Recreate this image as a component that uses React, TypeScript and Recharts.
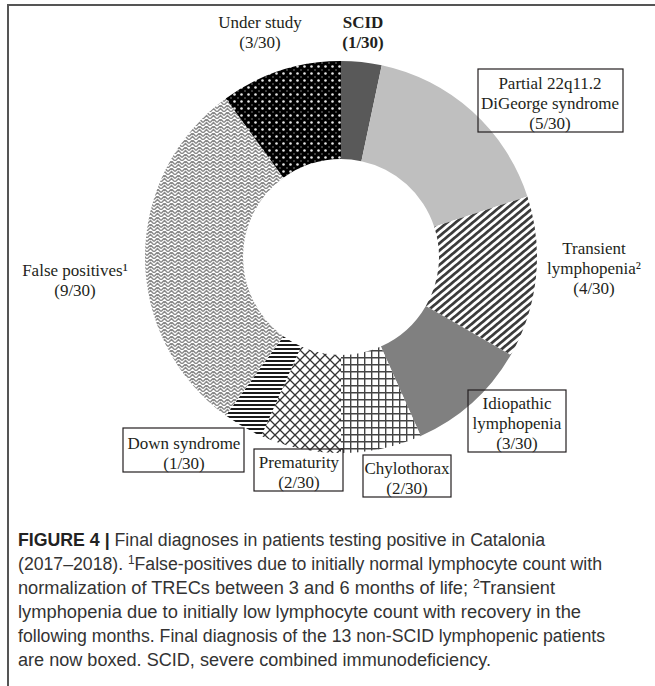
import React from 'react';
import { PieChart, Pie, Cell } from 'recharts';

// diagnoses, clockwise from 12 o'clock
const categories = [
  'SCID',
  'Partial 22q11.2 DiGeorge syndrome',
  'Transient lymphopenia',
  'Idiopathic lymphopenia',
  'Chylothorax',
  'Prematurity',
  'Down syndrome',
  'False positives',
  'Under study'
];
const patients = [1, 5, 4, 3, 2, 2, 1, 9, 3];
const totalPatients = 30;
const labelLines = [
  ['SCID'],
  ['Partial 22q11.2', 'DiGeorge syndrome'],
  ['Transient', 'lymphopenia²'],
  ['Idiopathic', 'lymphopenia'],
  ['Chylothorax'],
  ['Prematurity'],
  ['Down syndrome'],
  ['False positives¹'],
  ['Under study']
];
const fills = [
  '#595959',
  '#bfbfbf',
  'url(#stripes)',
  '#808080',
  'url(#grid)',
  'url(#cross)',
  'url(#hstripes)',
  'url(#weave)',
  'url(#dots)'
];

// label placement relative to the pie centre (dx/dy of the first text line)
const labelLayout = [
  { dx: 22, dy: -235, bold: true },
  { dx: 209, dy: -174, box: { x: 137, y: -188, w: 145, h: 63 } },
  { dx: 253, dy: -9 },
  { dx: 176, dy: 146, box: { x: 127, y: 133, w: 98, h: 62 } },
  { dx: 66, dy: 211, box: { x: 22, y: 198, w: 88, h: 42 } },
  { dx: -42, dy: 205, box: { x: -87, y: 192, w: 89, h: 42 } },
  { dx: -157, dy: 186, box: { x: -218, y: 171, w: 121, h: 44 } },
  { dx: -266, dy: 13 },
  { dx: -81, dy: -235 }
];

const data = categories.map((name, i) => ({ name, value: patients[i] }));

const serif = '"Liberation Serif", "Times New Roman", serif';
const ink = '#231f20';
const lineGap = 20;

const renderLabel = (props: any) => {
  const { cx, cy, index, value } = props;
  const lay = labelLayout[index];
  const lines = [...labelLines[index], `(${value}/${totalPatients})`];
  return (
    <g key={`lbl-${index}`}>
      {lay.box && (
        <rect
          x={cx + lay.box.x}
          y={cy + lay.box.y}
          width={lay.box.w}
          height={lay.box.h}
          fill="none"
          stroke={ink}
          strokeWidth={1.2}
        />
      )}
      {lines.map((t, k) => (
        <text
          key={k}
          x={cx + lay.dx}
          y={cy + lay.dy + k * lineGap}
          textAnchor="middle"
          dominantBaseline="central"
          fontFamily={serif}
          fontSize={17}
          fontWeight={lay.bold ? 'bold' : 'normal'}
          fill={ink}
        >
          {t}
        </text>
      ))}
    </g>
  );
};

const Patterns = () => (
  <svg width={0} height={0} style={{ position: 'absolute' }}>
    <defs>
      <pattern id="dots" width="7" height="7" patternUnits="userSpaceOnUse">
        <rect width="7" height="7" fill="#000" />
        <circle cx="3.5" cy="3.5" r="1.3" fill="#e6e6e6" />
        <circle cx="0" cy="0" r="0.8" fill="#8a8a8a" />
        <circle cx="7" cy="0" r="0.8" fill="#8a8a8a" />
        <circle cx="0" cy="7" r="0.8" fill="#8a8a8a" />
        <circle cx="7" cy="7" r="0.8" fill="#8a8a8a" />
      </pattern>
      <pattern id="stripes" width="5.5" height="5.5" patternUnits="userSpaceOnUse" patternTransform="rotate(-40)">
        <rect width="5.5" height="5.5" fill="#fff" />
        <rect width="5.5" height="2.7" fill="#3a3a3a" />
      </pattern>
      <pattern id="grid" width="7" height="7" patternUnits="userSpaceOnUse">
        <rect width="7" height="7" fill="#fff" />
        <path d="M0,0.7 H7 M0.7,0 V7" stroke="#444" strokeWidth={1.4} />
      </pattern>
      <pattern id="cross" width="10" height="10" patternUnits="userSpaceOnUse">
        <rect width="10" height="10" fill="#fff" />
        <path d="M0,0 L10,10 M10,0 L0,10" stroke="#333" strokeWidth={1.3} />
      </pattern>
      <pattern id="hstripes" width="4" height="4" patternUnits="userSpaceOnUse">
        <rect width="4" height="4" fill="#fff" />
        <rect width="4" height="2" fill="#1a1a1a" />
      </pattern>
      <pattern id="weave" width="7" height="7" patternUnits="userSpaceOnUse">
        <rect width="7" height="7" fill="#fff" />
        <path d="M0,7 L3.5,3.5 L7,7 M0,3.5 L3.5,0 L7,3.5" stroke="#8a8a8a" strokeWidth={1.5} fill="none" />
      </pattern>
    </defs>
  </svg>
);

const captionFont = '"Liberation Sans Narrow", "Arial Narrow", "Liberation Sans", Arial, sans-serif';

const Caption = () => {
  const x = 18;
  const base = 546;
  const step = 24;
  const common = { x, fontFamily: captionFont, fontSize: 18, fill: '#333', lengthAdjust: 'spacingAndGlyphs' as const };
  return (
    <svg width={655} height={686} style={{ position: 'absolute', left: 0, top: 0 }}>
      <text {...common} y={base} textLength={527}>
        <tspan fontWeight="bold" fill="#222">FIGURE 4 |</tspan> Final diagnoses in patients testing positive in Catalonia
      </text>
      <text {...common} y={base + step} textLength={584}>
        (2017–2018). <tspan dy={-6} fontSize={12}>1</tspan>
        <tspan dy={6}>False-positives due to initially normal lymphocyte count with</tspan>
      </text>
      <text {...common} y={base + step * 2} textLength={537}>
        normalization of TRECs between 3 and 6 months of life; <tspan dy={-6} fontSize={12}>2</tspan>
        <tspan dy={6}>Transient</tspan>
      </text>
      <text {...common} y={base + step * 3} textLength={563}>
        lymphopenia due to initially low lymphocyte count with recovery in the
      </text>
      <text {...common} y={base + step * 4} textLength={587}>
        following months. Final diagnosis of the 13 non-SCID lymphopenic patients
      </text>
      <text {...common} y={base + step * 5} textLength={473}>
        are now boxed. SCID, severe combined immunodeficiency.
      </text>
    </svg>
  );
};

export default function App() {
  return (
    <div style={{ position: 'absolute', left: 0, top: 0, width: 655, height: 686, background: '#fff', overflow: 'hidden' }}>
      <Patterns />
      <div style={{ position: 'absolute', left: 7, top: 4, width: 648, height: 1.5, background: '#555' }} />
      <div style={{ position: 'absolute', left: 7, top: 4, width: 1.5, height: 682, background: '#555' }} />
      <div style={{ position: 'absolute', left: 0, top: 0 }}>
        <PieChart width={655} height={520} margin={{ top: 0, right: 0, bottom: 0, left: 0 }}>
          <Pie
            data={data}
            dataKey="value"
            nameKey="name"
            cx={341}
            cy={257}
            innerRadius={98}
            outerRadius={196}
            startAngle={90}
            endAngle={-270}
            stroke="none"
            label={renderLabel}
            labelLine={false}
            isAnimationActive={false}
          >
            {data.map((d, i) => (
              <Cell key={d.name} fill={fills[i]} />
            ))}
          </Pie>
        </PieChart>
      </div>
      <Caption />
    </div>
  );
}
